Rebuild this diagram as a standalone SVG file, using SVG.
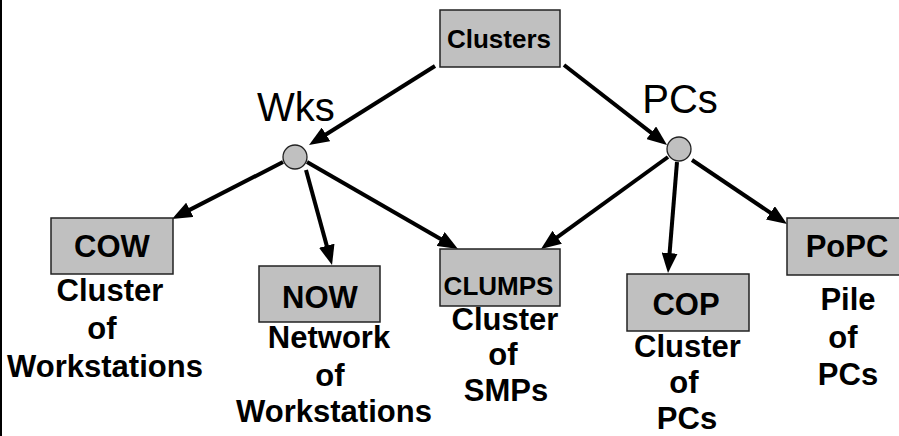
<svg xmlns="http://www.w3.org/2000/svg" width="899" height="436" viewBox="0 0 899 436">
<style>
.box{fill:#c0c0c0;stroke:#222;stroke-width:1.5}
.dot{fill:#c0c0c0;stroke:#222;stroke-width:1.3}
.bt{font-family:"Liberation Sans",Arial,sans-serif;font-weight:bold;fill:#000;text-anchor:middle}
.big{font-size:31px}
.mid{font-size:26px}
.lbl{font-family:"Liberation Sans",Arial,sans-serif;font-size:40px;fill:#000;text-anchor:middle}
.edge{stroke:#000;stroke-width:4;fill:none;marker-end:url(#ah)}
</style>
<defs>
<marker id="ah" viewBox="0 0 20 16" refX="10" refY="8" markerWidth="20" markerHeight="16" markerUnits="userSpaceOnUse" orient="auto">
<path d="M0,0 L20,8 L0,16 z" fill="#000"/>
</marker>
</defs>
<rect x="0" y="0" width="2" height="436" fill="#000"/>
<g id="connectors">
<line class="edge" x1="435" y1="66" x2="317.5" y2="139.7"/>
<line class="edge" x1="564" y1="65" x2="659.1" y2="138.9"/>
<line class="edge" x1="283" y1="162" x2="180.9" y2="214.4"/>
<line class="edge" x1="306" y1="170" x2="329.4" y2="255.4"/>
<line class="edge" x1="307" y1="162" x2="449.3" y2="244"/>
<line class="edge" x1="668" y1="157" x2="549.1" y2="243.1"/>
<line class="edge" x1="677" y1="162" x2="668.8" y2="263"/>
<line class="edge" x1="692" y1="160" x2="778.7" y2="218.4"/>
</g>
<g id="clusters">
<rect class="box" x="440" y="10" width="120" height="57"/>
<text class="bt mid" x="499" y="48">Clusters</text>
</g>
<g id="wks">
<circle class="dot" cx="295" cy="157" r="12"/>
<text class="lbl" x="296" y="121">Wks</text>
</g>
<g id="pcs">
<circle class="dot" cx="679" cy="149" r="12"/>
<text class="lbl" x="680" y="113">PCs</text>
</g>
<g id="cow">
<rect class="box" x="51" y="218" width="122" height="56"/>
<text class="bt big" x="112" y="257">COW</text>
<text class="bt big" x="110" y="301">Cluster</text>
<text class="bt big" x="102" y="339">of</text>
<text class="bt big" x="105" y="377" font-size="32">Workstations</text>
</g>
<g id="now">
<rect class="box" x="259" y="266" width="121" height="56"/>
<text class="bt big" x="320" y="308">NOW</text>
<text class="bt big" x="329" y="348">Network</text>
<text class="bt big" x="330" y="386">of</text>
<text class="bt big" x="334" y="422" font-size="30">Workstations</text>
</g>
<g id="clumps">
<rect class="box" x="440" y="249" width="120" height="57"/>
<text class="bt mid" x="498.5" y="295">CLUMPS</text>
<text class="bt big" x="505" y="330">Cluster</text>
<text class="bt big" x="503" y="365">of</text>
<text class="bt big" x="506" y="401">SMPs</text>
</g>
<g id="cop">
<rect class="box" x="627" y="274" width="122" height="57"/>
<text class="bt big" x="686" y="315">COP</text>
<text class="bt big" x="687.5" y="357">Cluster</text>
<text class="bt big" x="684" y="393">of</text>
<text class="bt big" x="687" y="429">PCs</text>
</g>
<g id="popc">
<rect class="box" x="787" y="218" width="121" height="57"/>
<text class="bt big" x="847" y="257">PoPC</text>
<text class="bt big" x="848" y="310">Pile</text>
<text class="bt big" x="843" y="348">of</text>
<text class="bt big" x="848" y="385">PCs</text>
</g>
</svg>
